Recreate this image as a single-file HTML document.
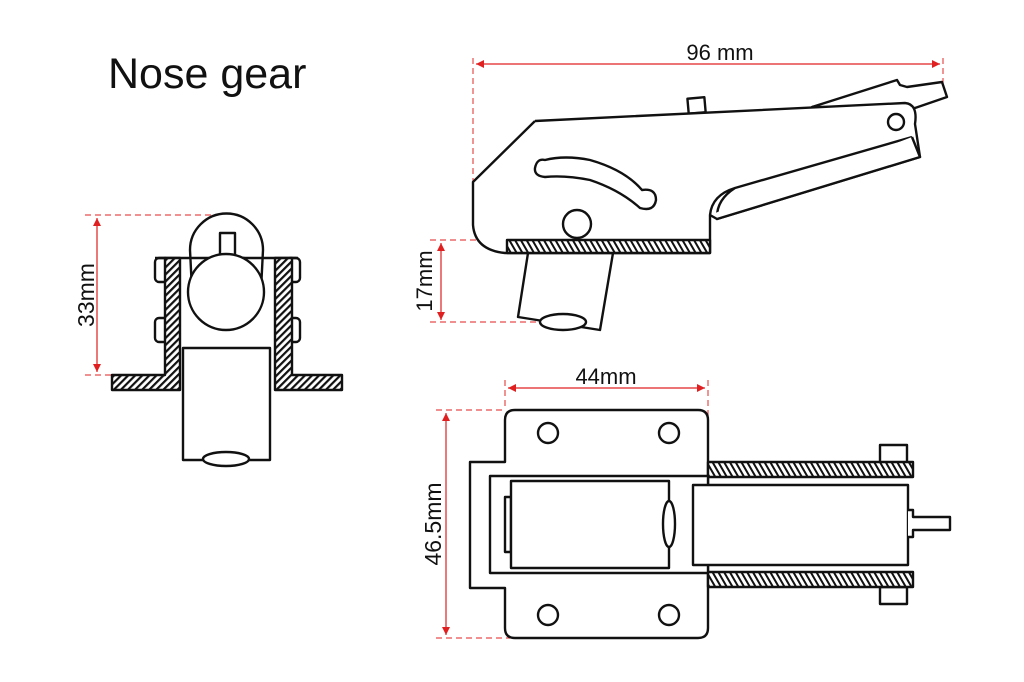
<!DOCTYPE html>
<html><head><meta charset="utf-8"><style>
html,body{margin:0;padding:0;background:#fff;width:1024px;height:682px;overflow:hidden}
svg{display:block}
text{font-family:"Liberation Sans",sans-serif;fill:#111}
</style></head><body>
<svg width="1024" height="682" viewBox="0 0 1024 682" xmlns="http://www.w3.org/2000/svg">
<defs>
<pattern id="h" width="5" height="5" patternUnits="userSpaceOnUse" patternTransform="rotate(45)">
<rect width="5" height="5" fill="#fff"/><rect width="2.2" height="5" fill="#111"/></pattern>
<pattern id="h2" width="5" height="5" patternUnits="userSpaceOnUse" patternTransform="rotate(-30)">
<rect width="5" height="5" fill="#fff"/><rect width="2" height="5" fill="#111"/></pattern>
<marker id="a" viewBox="0 0 10 10" refX="10" refY="5" markerWidth="10" markerHeight="8" orient="auto-start-reverse" markerUnits="userSpaceOnUse"><path d="M0,0 L10,5 L0,10 z" fill="#e02020"/></marker>
</defs>
<text x="108" y="88" font-size="43">Nose gear</text>

<g stroke="#e02020" stroke-width="1.2" fill="none">
<line x1="476" y1="64" x2="940" y2="64" marker-start="url(#a)" marker-end="url(#a)"/>
<line x1="97" y1="218" x2="97" y2="372" marker-start="url(#a)" marker-end="url(#a)"/>
<line x1="441" y1="243" x2="441" y2="320" marker-start="url(#a)" marker-end="url(#a)"/>
<line x1="508" y1="388" x2="705" y2="388" marker-start="url(#a)" marker-end="url(#a)"/>
<line x1="446" y1="413" x2="446" y2="635" marker-start="url(#a)" marker-end="url(#a)"/>
<g stroke-dasharray="6,4" opacity="0.8">
<line x1="473" y1="58" x2="473" y2="182"/><line x1="943" y1="58" x2="943" y2="85"/>
<line x1="85" y1="215" x2="225" y2="215"/><line x1="85" y1="375" x2="112" y2="375"/>
<line x1="430" y1="240" x2="507" y2="240"/><line x1="430" y1="322" x2="540" y2="322"/>
<line x1="505" y1="380" x2="505" y2="410"/><line x1="708" y1="380" x2="708" y2="420"/>
<line x1="436" y1="410" x2="505" y2="410"/><line x1="436" y1="638" x2="510" y2="638"/>
</g></g>
<text x="720" y="60" font-size="22" text-anchor="middle">96 mm</text>
<text x="606" y="384" font-size="22" text-anchor="middle">44mm</text>
<text transform="translate(94,295) rotate(-90)" font-size="23" text-anchor="middle">33mm</text>
<text transform="translate(432,281) rotate(-90)" font-size="22" text-anchor="middle">17mm</text>
<text transform="translate(441,524) rotate(-90)" font-size="23" text-anchor="middle">46.5mm</text>

<g stroke="#111" stroke-width="2.4" fill="#fff" stroke-linejoin="round">
<!-- front view -->
<rect x="155" y="258" width="14" height="24" rx="4"/><rect x="155" y="318" width="14" height="24" rx="4"/>
<rect x="286" y="258" width="14" height="24" rx="4"/><rect x="286" y="318" width="14" height="24" rx="4"/>
<path d="M192,290 L190,250 A36,36 0 0 1 263,250 L261,290" />
<line x1="155" y1="258" x2="298" y2="258"/>
<rect x="220" y="233" width="15" height="26"/><rect x="211" y="258" width="33" height="12"/>
<path d="M165,258 H180 V390 H112 V375 H165 Z" fill="url(#h)"/>
<path d="M275,258 H292 V375 H342 V390 H275 Z" fill="url(#h)"/>
<circle cx="226" cy="292" r="38"/>
<rect x="183" y="348" width="87" height="112"/>
<ellipse cx="226" cy="459" rx="23" ry="7"/>

<!-- side view -->
<path d="M812,107 L897,80 L900,85 L907,87 L942,82 L947,97 L915,108 Z"/>
<rect x="688" y="98" width="17" height="15" transform="rotate(-5 696 105)"/>
<path d="M535,121 L905,103 Q918,104 915,124 L920,157 L717,219 Q716,200 735,188 L912,137 M535,121 L473,182 L473,225 Q475,250 505,253 L710,253 L710,215 Q712,195 735,188"/>
<path d="M710,215 L717,219 L920,157 L912,137"/>
<path d="M545,160 Q565,155 590,160 Q625,170 642,190 Q656,188 656,200 Q654,212 640,208 Q620,190 590,180 Q565,175 545,177 Q534,176 535,168 Q537,158 545,160 Z"/>
<circle cx="896" cy="122" r="8"/>
<circle cx="577" cy="224" r="14"/>
<path d="M528,253 L613,253 L600,330 L518,317 Z"/>
<rect x="507" y="240" width="203" height="13" fill="url(#h2)"/>
<ellipse cx="563" cy="322" rx="23" ry="8"/>

<!-- top view -->
<rect x="880" y="445" width="27" height="18"/><rect x="880" y="587" width="27" height="17"/>
<path d="M505,462 V420 Q505,410 515,410 H698 Q708,410 708,420 V628 Q708,638 698,638 H515 Q505,638 505,628 V588 H470 V462 Z"/>
<rect x="708" y="462" width="205" height="15" fill="url(#h2)"/>
<rect x="708" y="572" width="205" height="15" fill="url(#h2)"/>
<rect x="490" y="476" width="218" height="97"/>
<rect x="505" y="497" width="6" height="55"/>
<rect x="511" y="481" width="158" height="87"/>
<ellipse cx="669" cy="524" rx="6" ry="23"/>
<rect x="693" y="485" width="215" height="80"/>
<path d="M908,510 H913 V517 H950 V530 H913 V537 H908"/>
<circle cx="548" cy="433" r="10"/><circle cx="669" cy="433" r="10"/>
<circle cx="548" cy="615" r="10"/><circle cx="669" cy="615" r="10"/>
</g>
</svg>
</body></html>
